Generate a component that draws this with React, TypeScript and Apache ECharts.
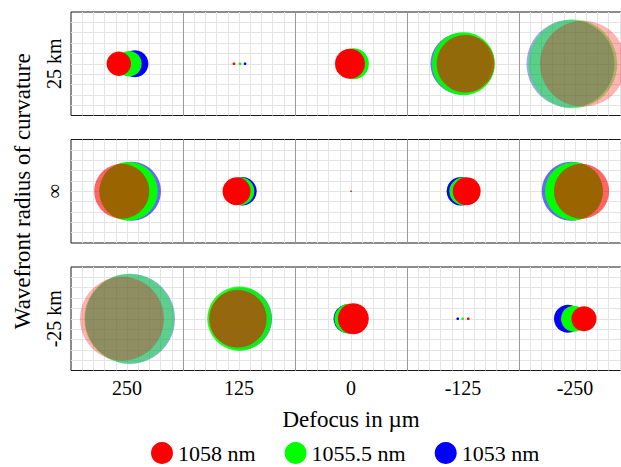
import React, { useEffect, useRef } from 'react';
import * as echarts from 'echarts';

// Row facets (wavefront radius of curvature) and column facets (defocus in µm)
const rowLabels = ['25 km', '∞', '-25 km'];
const defocusLabels = ['250', '125', '0', '-125', '-250'];
const legendOrder = ['1058 nm', '1055.5 nm', '1053 nm'];

// Spot per panel: [x offset of spot centre, spot radius], in panel grid units (panel spans -5..5)
const red1058 = [
  [[-0.73, 1.09], [-0.45, 0.12], [-0.09, 1.34], [0.22, 2.57], [0.71, 3.84]],
  [[-0.47, 2.46], [-0.22, 1.25], [0, 0.05], [0.33, 1.25], [0.58, 2.46]],
  [[-0.45, 3.75], [-0.1, 2.57], [0.21, 1.38], [0.47, 0.12], [0.8, 1.12]],
];
const green1055_5 = [
  [[0.17, 1.14], [0.09, 0.12], [0.22, 1.38], [0.04, 2.81], [-0.2, 3.97]],
  [[0.13, 2.61], [0.12, 1.25], [0, 0.05], [0.03, 1.25], [-0.09, 2.59]],
  [[0.2, 4.02], [0.04, 2.87], [-0.15, 1.34], [-0.03, 0.12], [-0.09, 1.16]],
];
const blue1053 = [
  [[0.71, 1.2], [0.54, 0.12], [0.18, 1.25], [-0.18, 2.72], [-0.4, 3.93]],
  [[0.4, 2.63], [0.31, 1.27], [0, 0.05], [-0.18, 1.28], [-0.34, 2.63]],
  [[0.27, 4.02], [0.18, 2.77], [-0.27, 1.29], [-0.47, 0.12], [-0.63, 1.25]],
];

const FONT = "'Liberation Serif', 'Times New Roman', serif";

export default function App() {
  const ref = useRef<HTMLDivElement>(null);
  useEffect(() => {
    const chart = echarts.init(ref.current!, null, { renderer: 'svg' });
    const grids: any[] = [];
    const xAxes: any[] = [];
    const yAxes: any[] = [];
    for (let r = 0; r < 3; r++) {
      grids.push({
        left: 71,
        top: 12 + r * 127.5,
        width: 560,
        height: 103.5,
        containLabel: false,
        outerBoundsMode: 'none',
        show: true,
        borderColor: '#1a1a1a',
        borderWidth: 1,
        backgroundColor: 'transparent',
      });
      xAxes.push({
        type: 'value',
        gridIndex: r,
        position: 'top',
        min: 0,
        max: 50,
        interval: 1,
        axisLine: { show: false },
        axisTick: { show: false },
        axisLabel: { show: false },
        splitLine: { show: true, showMinLine: false, showMaxLine: false, lineStyle: { color: '#e4e4e4', width: 1 } },
      });
      xAxes.push({
        type: 'category',
        gridIndex: r,
        position: 'bottom',
        data: defocusLabels,
        boundaryGap: true,
        axisLine: { show: false },
        axisTick: { show: false },
        axisLabel: { show: r === 2, fontSize: 20, color: '#000', fontFamily: FONT, margin: 7 },
        splitLine: { show: true, showMinLine: false, showMaxLine: false, lineStyle: { color: '#999', width: 1 } },
        name: r === 2 ? 'Defocus in µm' : '',
        nameLocation: 'middle',
        nameGap: 37,
        nameTextStyle: { fontSize: 23, color: '#000', fontFamily: FONT },
      });
      yAxes.push({
        type: 'value',
        gridIndex: r,
        position: 'right',
        min: -5,
        max: 5,
        interval: 1,
        axisLine: { show: false },
        axisTick: { show: false },
        axisLabel: { show: false },
        splitLine: { show: true, showMinLine: false, showMaxLine: false, lineStyle: { color: '#e4e4e4', width: 1 } },
      });
      yAxes.push({
        type: 'category',
        gridIndex: r,
        position: 'left',
        data: [rowLabels[r]],
        axisLine: { show: false },
        axisTick: { show: false },
        splitLine: { show: false },
        axisLabel: { rotate: 90, fontSize: 20, color: '#000', fontFamily: FONT, margin: 7 },
        name: r === 1 ? 'Wavefront radius of curvature' : '',
        nameLocation: 'middle',
        nameRotate: 90,
        nameGap: 37,
        nameTextStyle: { fontSize: 23, color: '#000', fontFamily: FONT },
      });
    }

    // Ray density falls with spot area, so wide spots look paler (layer opacity by pixel radius)
    const spotSets = [
      { name: '1053 nm', color: '#0000ff', data: blue1053, op: (rp: number) => Math.min(1, Math.pow(19.5 / rp, 1.29)) },
      { name: '1055.5 nm', color: '#00ff00', data: green1055_5, op: (rp: number) => Math.min(1, Math.pow(30 / rp, 2)) },
      { name: '1058 nm', color: '#ff0000', data: red1058, op: (rp: number) => Math.min(1, Math.pow(20 / rp, 1.58)) },
    ];

    const series: any[] = [];
    spotSets.forEach((set) => {
      for (let r = 0; r < 3; r++) {
        const data = set.data[r].map((d, c) => [c * 10 + 5 + d[0], 0, d[1]]);
        series.push({
          type: 'custom',
          name: set.name,
          coordinateSystem: 'cartesian2d',
          xAxisIndex: r * 2,
          yAxisIndex: r * 2,
          itemStyle: { color: set.color },
          dimensions: ['x', 'y', 'r'],
          encode: { x: 0, y: 1 },
          data,
          renderItem: (params: any, api: any) => {
            const p = api.coord([api.value(0), api.value(1)]);
            const rp = api.size([api.value(2), 0])[0];
            return {
              type: 'circle',
              shape: { cx: p[0], cy: p[1], r: rp },
              style: { fill: set.color, opacity: set.op(rp) },
            };
          },
        });
      }
    });

    chart.setOption({
      animation: false,
      textStyle: { fontFamily: FONT },
      grid: grids,
      xAxis: xAxes,
      yAxis: yAxes,
      legend: {
        data: legendOrder,
        left: 146,
        top: 437,
        icon: 'circle',
        itemWidth: 22,
        itemHeight: 22,
        itemGap: 29,
        selectedMode: false,
        textStyle: { fontSize: 22, color: '#000', fontFamily: FONT },
      },
      series,
    });
    return () => chart.dispose();
  }, []);
  return <div ref={ref} style={{ position: 'absolute', left: 0, top: 0, width: 621, height: 467 }} />;
}
